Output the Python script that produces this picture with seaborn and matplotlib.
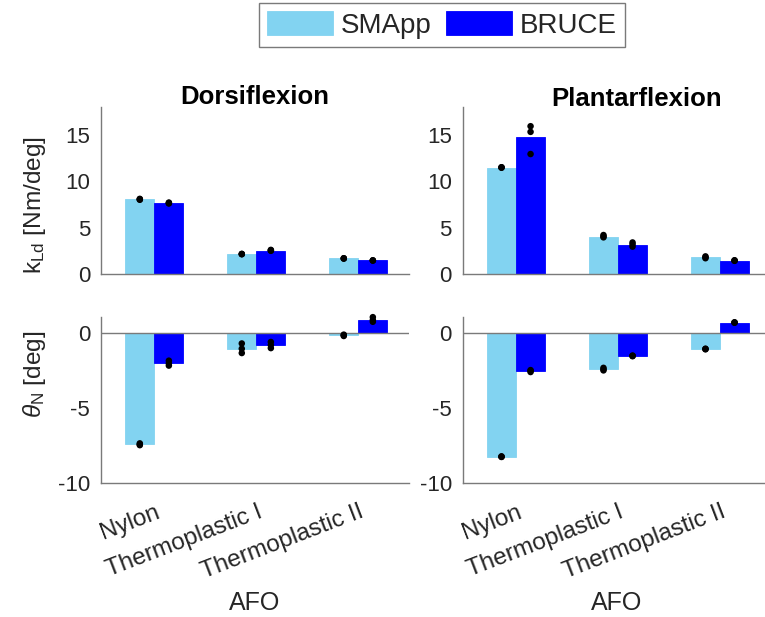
import numpy as np
import pandas as pd
import matplotlib
matplotlib.use("Agg")
import matplotlib.pyplot as plt
import matplotlib.transforms as mtransforms
import seaborn as sns

# ---------------- data ----------------
afo = ["Nylon", "Thermoplastic I", "Thermoplastic II"]
devices = ["SMApp", "BRUCE"]

# bar heights (means)
dorsi_k_smapp = [8.04, 2.14, 1.68]
dorsi_k_bruce = [7.64, 2.53, 1.46]
plantar_k_smapp = [11.47, 4.04, 1.79]
plantar_k_bruce = [14.72, 3.14, 1.43]
dorsi_theta_smapp = [-7.42, -1.02, -0.13]
dorsi_theta_bruce = [-1.98, -0.75, 0.91]
plantar_theta_smapp = [-8.24, -2.38, -1.02]
plantar_theta_bruce = [-2.49, -1.51, 0.71]

# individual trials (dots), 3 per bar
dorsi_k_smapp_pts = [[8.00, 8.10, 8.05], [2.15, 2.17, 2.13], [1.70, 1.68, 1.66]]
dorsi_k_bruce_pts = [[7.60, 7.70, 7.65], [2.50, 2.60, 2.55], [1.45, 1.47, 1.46]]
plantar_k_smapp_pts = [[11.50, 11.50, 11.45], [4.20, 4.05, 3.95], [1.90, 1.80, 1.70]]
plantar_k_bruce_pts = [[15.93, 15.32, 12.93], [3.40, 3.20, 2.95], [1.45, 1.42, 1.48]]
dorsi_theta_smapp_pts = [[-7.35, -7.42, -7.47], [-0.67, -1.02, -1.31], [-0.08, -0.12, -0.17]]
dorsi_theta_bruce_pts = [[-1.82, -2.00, -2.15], [-0.57, -0.78, -0.98], [1.09, 0.90, 0.78]]
plantar_theta_smapp_pts = [[-8.24, -8.22, -8.26], [-2.30, -2.40, -2.47], [-1.04, -1.02, -1.06]]
plantar_theta_bruce_pts = [[-2.45, -2.50, -2.58], [-1.50, -1.52, -1.48], [0.73, 0.72, 0.74]]

titles = ["Dorsiflexion", "Plantarflexion"]
ylabel_top = r"$\mathrm{k}_{\mathrm{Ld}}$ [Nm/deg]"
ylabel_bot = r"$\theta_{\mathrm{N}}$ [deg]"
xlabel = "AFO"

colors = {"SMApp": "#82D3F1", "BRUCE": "#0000FF"}

# ---------------- style ----------------
sns.set_style("white")
plt.rcParams["font.family"] = ["Liberation Sans", "DejaVu Sans"]
plt.rcParams["mathtext.fontset"] = "custom"
plt.rcParams["mathtext.rm"] = "Liberation Sans"
plt.rcParams["mathtext.it"] = "Liberation Sans:italic"
plt.rcParams["mathtext.bf"] = "Liberation Sans:bold"

GREY = "#7a7a7a"
TXT = "#262626"
BAR_W = 0.57


def bar_df(smapp, bruce):
    return pd.DataFrame({
        "AFO": afo * 2,
        "Device": ["SMApp"] * 3 + ["BRUCE"] * 3,
        "value": list(smapp) + list(bruce),
    })


def pts_df(smapp_pts, bruce_pts):
    rows = []
    for hi, (dev, pts) in enumerate(zip(devices, [smapp_pts, bruce_pts])):
        for ci, vals in enumerate(pts):
            off = (hi - 0.5) * BAR_W / 2
            for v in vals:
                rows.append({"x": ci + off, "value": v, "Device": dev})
    return pd.DataFrame(rows)


W, H = 765, 617
fig = plt.figure(figsize=(W / 100, H / 100), dpi=100)

axw = 308 / W
lefts = [101.3 / W, 463 / W]
top_b, top_h = 1 - 274 / H, 167 / H
bot_b, bot_h = 1 - 483 / H, 166 / H

panels = [
    (dorsi_k_smapp, dorsi_k_bruce, dorsi_k_smapp_pts, dorsi_k_bruce_pts,
     dorsi_theta_smapp, dorsi_theta_bruce, dorsi_theta_smapp_pts, dorsi_theta_bruce_pts),
    (plantar_k_smapp, plantar_k_bruce, plantar_k_smapp_pts, plantar_k_bruce_pts,
     plantar_theta_smapp, plantar_theta_bruce, plantar_theta_smapp_pts, plantar_theta_bruce_pts),
]

title_x = [0.499, 0.562]
title_y = [1.018, 1.006]

handles, labels = None, None
for col, (ks, kb, ksp, kbp, ts, tb, tsp, tbp) in enumerate(panels):
    ax_t = fig.add_axes([lefts[col], top_b, axw, top_h])
    ax_b = fig.add_axes([lefts[col], bot_b, axw, bot_h])

    for ax, s, b, sp, bp in [(ax_t, ks, kb, ksp, kbp), (ax_b, ts, tb, tsp, tbp)]:
        sns.barplot(data=bar_df(s, b), x="AFO", y="value", hue="Device",
                    hue_order=devices, palette=colors, width=BAR_W,
                    errorbar=None, saturation=1, ax=ax, legend=True,
                    linewidth=0.6, edgecolor=None)
        for p in ax.patches:
            p.set_edgecolor(p.get_facecolor())
        if handles is None:
            handles, labels = ax.get_legend_handles_labels()
        if ax.get_legend() is not None:
            ax.get_legend().remove()
        sns.scatterplot(data=pts_df(sp, bp), x="x", y="value", color="black",
                        s=22, edgecolor="none", ax=ax, legend=False,
                        clip_on=False, zorder=4)
        ax.set_xlim(-0.52, 2.50)
        ax.set_xlabel("")
        ax.set_ylabel("")
        for side in ["top", "right"]:
            ax.spines[side].set_visible(False)
        for side in ["left", "bottom"]:
            ax.spines[side].set_color(GREY)
            ax.spines[side].set_linewidth(1.0)
        ax.tick_params(axis="y", direction="in", length=3, width=0.8,
                       color=GREY, labelsize=16, labelcolor=TXT, pad=8)

    # top panel
    ax_t.set_ylim(0, 18)
    ax_t.set_yticks([0, 5, 10, 15])
    ax_t.tick_params(axis="x", length=0, labelbottom=False)
    ax_t.set_title(titles[col], fontsize=18.5, fontweight="bold", color="black",
                   x=title_x[col], y=title_y[col], pad=0)

    # bottom panel
    ax_b.set_ylim(-10, 1.1)
    ax_b.set_yticks([-10, -5, 0])
    ax_b.set_yticklabels(["-10", "-5", "0"])
    ax_b.axhline(0, color=GREY, lw=1.0, zorder=3)
    ax_b.tick_params(axis="x", direction="in", length=3, width=0.8,
                     color=GREY, labelsize=17.5, labelcolor=TXT, pad=13)
    ax_b.set_xticks(range(len(afo)))
    ax_b.set_xticklabels(afo, rotation=21, ha="right", va="top",
                         rotation_mode="anchor")
    offset = mtransforms.ScaledTranslation(1 / 100, 0, fig.dpi_scale_trans)
    for lab in ax_b.get_xticklabels():
        lab.set_transform(lab.get_transform() + offset)

# axis labels
fig.text(35 / W, 1 - 205 / H, ylabel_top, rotation=90, ha="center",
         va="center", fontsize=17.6, color=TXT)
fig.text(35 / W, 1 - 374 / H, ylabel_bot, rotation=90, ha="center",
         va="center", fontsize=17.6, color=TXT)
fig.text(255 / W, 1 - 603 / H, xlabel, ha="center", va="center",
         fontsize=18, color=TXT)
fig.text(617 / W, 1 - 603 / H, xlabel, ha="center", va="center",
         fontsize=18, color=TXT)

# legend
leg = fig.legend(handles, labels, loc="upper center",
                 bbox_to_anchor=(442 / W, 1 - 2.7 / H), ncol=2,
                 fontsize=20, frameon=True, fancybox=False, framealpha=1,
                 edgecolor=GREY, borderpad=0.3, borderaxespad=0,
                 handlelength=2.38, handleheight=0.97, handletextpad=0.26,
                 columnspacing=0.54)
leg.get_frame().set_linewidth(1.0)

fig.savefig("out.png", dpi=100)
